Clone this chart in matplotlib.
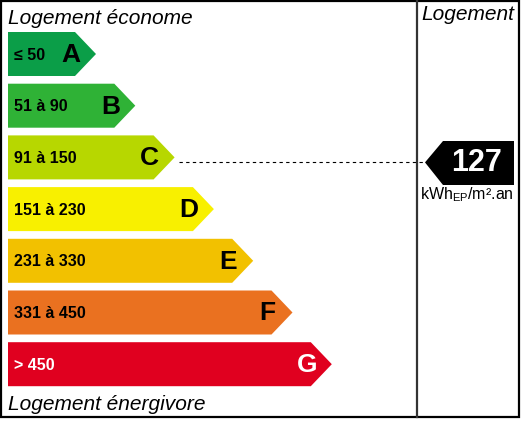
import matplotlib
matplotlib.use("Agg")
import matplotlib.pyplot as plt
from matplotlib.patches import Polygon, Rectangle

plt.rcParams['font.family'] = ['Liberation Sans', 'DejaVu Sans']

# données de l'étiquette
classes = ['A', 'B', 'C', 'D', 'E', 'F', 'G']
ranges = ['≤ 50', '51 à 90', '91 à 150', '151 à 230', '231 à 330', '331 à 450', '> 450']
colors = ['#0b9e48', '#2fb236', '#b7d700', '#f8f000', '#f2c100', '#ea7120', '#e0001f']
text_colors = ['black'] * 6 + ['white']
value = 127
value_class = 'C'
unit = 'kWh$_{\\mathregular{EP}}$/m².an'

W, H = 524, 423
fig = plt.figure(figsize=(W / 100, H / 100), dpi=100)
ax = fig.add_axes([0, 0, 1, 1])
ax.set_xlim(0, W)
ax.set_ylim(H, 0)
ax.set_axis_off()

# cadre
ax.add_patch(Rectangle((1, 1), 518, 416, fill=False, ec='black', lw=1.6))
ax.plot([417, 417], [1, 417], color='#333333', lw=1.6)

# barres
x0 = 8
bar_h = 44
for i, (c, r, col, tc) in enumerate(zip(classes, ranges, colors, text_colors)):
    top = 32 + 51.7 * i
    tip = 96 + 39.3 * i
    mid = top + bar_h / 2
    pts = [(x0, top), (tip - 21, top), (tip, mid), (tip - 21, top + bar_h), (x0, top + bar_h)]
    ax.add_patch(Polygon(pts, closed=True, fc=col, ec='none'))
    ax.text(14, mid + 1, r, fontsize=11.5, fontweight='bold', color=tc, va='center', ha='left')
    ax.text(tip - 25, mid + 1, c, fontsize=19, fontweight='bold', color=tc, va='center', ha='center')

# indicateur du logement
k = classes.index(value_class)
y_val = 32 + 51.7 * k + bar_h / 2 + 5
tip_c = 96 + 39.3 * k
ax.plot([tip_c + 4, 425], [y_val, y_val], color='black', lw=0.8, ls=(0, (3, 3)))
ax.add_patch(Polygon([(425, y_val), (443, 141), (514, 141), (514, 185), (443, 185)],
                     closed=True, fc='black', ec='none'))
ax.text(477, y_val + 1, str(value), fontsize=22, fontweight='bold', color='white',
        va='center', ha='center')
ax.text(467, 195, unit, fontsize=11.5, color='black', va='center', ha='center')

# titres
ax.text(8, 18.5, 'Logement économe', fontsize=15, style='italic', va='center', ha='left')
ax.text(8, 404, 'Logement énergivore', fontsize=15, style='italic', va='center', ha='left')
ax.text(468, 15, 'Logement', fontsize=15, style='italic', va='center', ha='center')

fig.savefig('out.png', dpi=100, facecolor='white')
